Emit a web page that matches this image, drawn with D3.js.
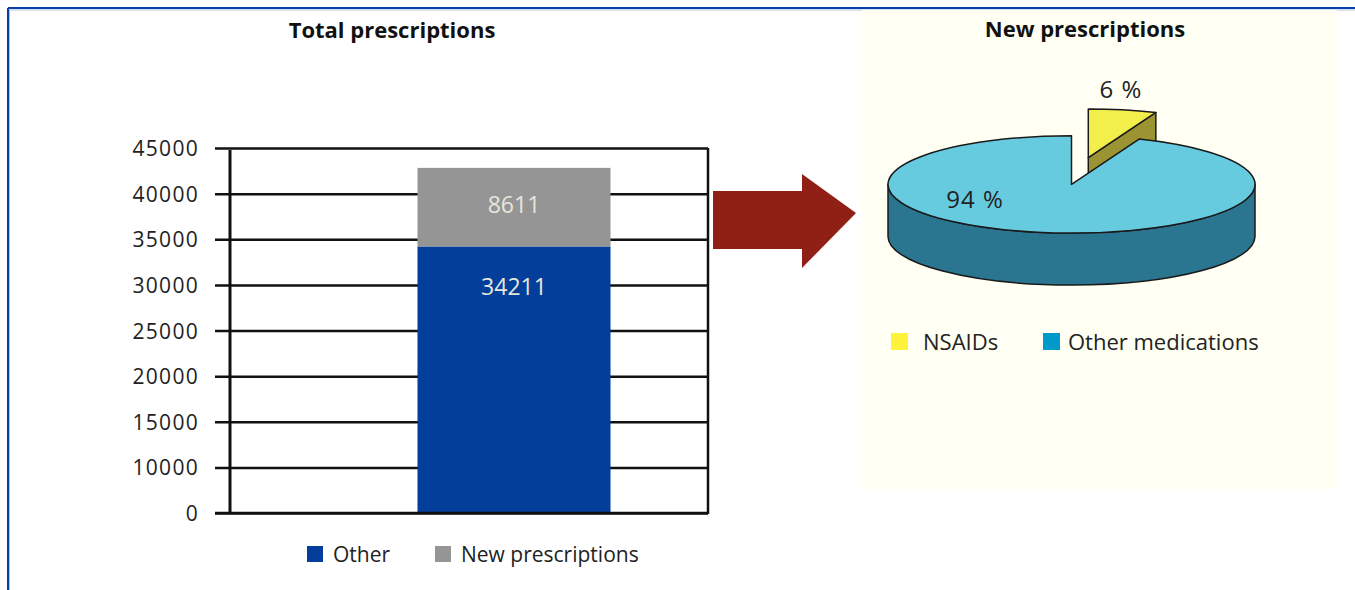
<!DOCTYPE html>
<html>
<head>
<meta charset="utf-8">
<script src="https://cdn.jsdelivr.net/npm/d3@7"></script>
<style>
  html, body { margin: 0; padding: 0; background: #ffffff; }
  svg { display: block; font-family: "Open Sans", "DejaVu Sans", sans-serif; }
</style>
</head>
<body>
<svg id="chart" width="1355" height="590"></svg>
<script>
// ---------- DATA ----------
const barCategories = ["Total prescriptions"];
const barSeries = ["Other", "New prescriptions"];
const otherValues = [34211];
const newValues = [8611];
const barColors = ["#023e9a", "#959595"];
// tick labels exactly as printed on the reference axis (no 5000 label; lowest gridline printed "0")
const tickValues = [5000, 10000, 15000, 20000, 25000, 30000, 35000, 40000, 45000];
const tickLabels = ["0", "10000", "15000", "20000", "25000", "30000", "35000", "40000", "45000"];

const pieCategories = ["NSAIDs", "Other medications"];
const pieValues = [6, 94];
const pieLabels = ["6 %", "94 %"];
const pieTopColors = ["#f2ee4a", "#67cbe0"];
const pieSideColors = ["#9c9432", "#2a7590"];
const pieLegendColors = ["#fff23a", "#0099cc"];

// ---------- SETUP ----------
const svg = d3.select("#chart");

// frame
svg.append("line").attr("x1", 8).attr("y1", 8).attr("x2", 1355).attr("y2", 8)
  .attr("stroke", "#0a3fa8").attr("stroke-width", 2);
svg.append("line").attr("x1", 8).attr("y1", 8).attr("x2", 8).attr("y2", 590)
  .attr("stroke", "#0a3fa8").attr("stroke-width", 2);
svg.append("line").attr("x1", 9.5).attr("y1", 10).attr("x2", 1355).attr("y2", 10)
  .attr("stroke", "#a9c0ec").attr("stroke-width", 1);
svg.append("line").attr("x1", 9.5).attr("y1", 10).attr("x2", 9.5).attr("y2", 590)
  .attr("stroke", "#a9c0ec").attr("stroke-width", 1);

// ---------- BAR CHART ----------
const plotLeft = 230, plotRight = 708, plotTop = 148, plotBottom = 513;

const y = d3.scaleLinear().domain([5000, 45000]).range([plotBottom, plotTop]);
const x = d3.scaleBand().domain(barCategories).range([plotLeft + 90, plotRight]).paddingInner(0.3356).paddingOuter(0.3356);

svg.append("text").attr("x", 392).attr("y", 38).attr("text-anchor", "middle")
  .attr("font-weight", "bold").attr("font-size", 22).attr("fill", "#111")
  .text("Total prescriptions");

const gAxis = svg.append("g").attr("transform", `translate(${plotLeft},0)`);
const yAxis = d3.axisLeft(y).tickValues(tickValues)
  .tickFormat((d, i) => tickLabels[i]).tickSize(-(plotRight - plotLeft)).tickSizeOuter(0).tickPadding(31);
gAxis.call(yAxis);
gAxis.select(".domain").remove();
gAxis.selectAll(".tick line").attr("x1", -15).attr("stroke", "#111").attr("stroke-width", 2.5);
gAxis.selectAll(".tick text").attr("font-size", 21).attr("fill", "#222")
  .attr("font-family", "'Open Sans', sans-serif").attr("letter-spacing", "1.3px")
  .attr("dy", "0.36em");

// vertical axis lines
svg.append("line").attr("x1", plotLeft).attr("x2", plotLeft).attr("y1", plotTop + 2).attr("y2", plotBottom + 1)
  .attr("stroke", "#111").attr("stroke-width", 3);
svg.append("line").attr("x1", plotRight).attr("x2", plotRight).attr("y1", plotTop).attr("y2", plotBottom + 1)
  .attr("stroke", "#111").attr("stroke-width", 2.5);

// clip to plot area
svg.append("clipPath").attr("id", "plotClip").append("rect")
  .attr("x", plotLeft).attr("y", plotTop - 40).attr("width", plotRight - plotLeft).attr("height", plotBottom - plotTop + 40);

const stackData = barCategories.map((c, i) => ({ cat: c, "Other": otherValues[i], "New prescriptions": newValues[i] }));
const stacked = d3.stack().keys(barSeries)(stackData);

const gBars = svg.append("g").attr("clip-path", "url(#plotClip)");
stacked.forEach((layer, li) => {
  gBars.selectAll(null).data(layer).enter().append("rect")
    .attr("x", d => x(d.data.cat))
    .attr("width", x.bandwidth())
    .attr("y", d => y(d[1]))
    .attr("height", d => Math.max(0, y(d[0]) - y(d[1])))
    .attr("fill", barColors[li]);
});
// value labels
stacked.forEach((layer, li) => {
  svg.selectAll(null).data(layer).enter().append("text")
    .attr("x", d => x(d.data.cat) + x.bandwidth() / 2)
    .attr("y", d => li === 0 ? y(d[1]) + 40 : (y(d[1]) + y(d[0])) / 2 - 2)
    .attr("dy", "0.36em")
    .attr("text-anchor", "middle").attr("font-size", 23).attr("fill", "#e6e6dc")
    .text(d => d.data[barSeries[li]]);
});
// baseline over bars
svg.append("line").attr("x1", plotLeft - 15).attr("x2", plotRight).attr("y1", y(5000)).attr("y2", y(5000))
  .attr("stroke", "#111").attr("stroke-width", 2.5);

// legend
const barLegend = svg.append("g");
const barLegendX = [307, 435];
barSeries.forEach((s, i) => {
  barLegend.append("rect").attr("x", barLegendX[i]).attr("y", 546).attr("width", 16).attr("height", 16).attr("fill", barColors[i]);
  barLegend.append("text").attr("x", barLegendX[i] + 26).attr("y", 554).attr("dy", "0.36em")
    .attr("font-size", 21).attr("fill", "#222").text(s);
});

// ---------- ARROW ----------
svg.append("path")
  .attr("d", "M713,191 L802,191 L802,174 L856,213 L802,268 L802,249 L713,249 Z")
  .attr("fill", "#901f15");

// ---------- PIE PANEL ----------
svg.append("rect").attr("x", 862).attr("y", 10).attr("width", 475).attr("height", 479).attr("fill", "#fffff3");
svg.append("text").attr("x", 1085).attr("y", 37).attr("text-anchor", "middle")
  .attr("font-weight", "bold").attr("font-size", 22).attr("fill", "#111").text("New prescriptions");

const cx = 1071.5, cy = 184.4, rx = 183.5, ry = 48.7, depth = 52;
const explode = [16.8, -26.7];
const P = (a, ox = 0, oy = 0) => [cx + ox + rx * Math.sin(a), cy + oy - ry * Math.cos(a)];

const arcs = d3.pie().sort(null).value(d => d)(pieValues);
const gPie = svg.append("g").attr("stroke", "#1a1a1a").attr("stroke-width", 1.5).attr("stroke-linejoin", "round");

function topPath(a0, a1, ox, oy) {
  const p0 = P(a0, ox, oy), p1 = P(a1, ox, oy);
  const large = (a1 - a0) > Math.PI ? 1 : 0;
  return `M${cx + ox},${cy + oy} L${p0[0]},${p0[1]} A${rx},${ry} 0 ${large} 1 ${p1[0]},${p1[1]} Z`;
}
function sidePath(a0, a1, ox, oy) {
  const s = Math.max(a0, Math.PI / 2), e = Math.min(a1, 3 * Math.PI / 2);
  if (e <= s) return null;
  const p0 = P(s, ox, oy), p1 = P(e, ox, oy);
  return `M${p0[0]},${p0[1]} A${rx},${ry} 0 0 1 ${p1[0]},${p1[1]} L${p1[0]},${p1[1] + depth} A${rx},${ry} 0 0 0 ${p0[0]},${p0[1] + depth} Z`;
}
function radialFace(a, ox, oy) {
  const p = P(a, ox, oy);
  return `M${cx + ox},${cy + oy} L${p[0]},${p[1]} L${p[0]},${p[1] + depth} L${cx + ox},${cy + oy + depth} Z`;
}

// exploded NSAIDs slice (drawn first, behind)
const a0 = arcs[0];
gPie.append("path").attr("d", radialFace(a0.endAngle, explode[0], explode[1])).attr("fill", pieSideColors[0]);
gPie.append("path").attr("d", topPath(a0.startAngle, a0.endAngle, explode[0], explode[1])).attr("fill", pieTopColors[0]);

// main slice
const a1 = arcs[1];
const sp = sidePath(a1.startAngle, a1.endAngle, 0, 0);
if (sp) gPie.append("path").attr("d", sp).attr("fill", pieSideColors[1]);
gPie.append("path").attr("d", topPath(a1.startAngle, a1.endAngle, 0, 0)).attr("fill", pieTopColors[1]);

// pie labels
svg.append("text").attr("x", 1121).attr("y", 89).attr("dy", "0.36em").attr("text-anchor", "middle")
  .attr("font-size", 24).attr("letter-spacing", "1px").attr("fill", "#222").text(pieLabels[0]);
svg.append("text").attr("x", 975).attr("y", 199).attr("dy", "0.36em").attr("text-anchor", "middle")
  .attr("font-size", 24).attr("letter-spacing", "1px").attr("fill", "#222").text(pieLabels[1]);

// pie legend
const pieLegendX = [891, 1043];
pieCategories.forEach((c, i) => {
  svg.append("rect").attr("x", pieLegendX[i]).attr("y", 333).attr("width", 17).attr("height", 17).attr("fill", pieLegendColors[i]);
  svg.append("text").attr("x", pieLegendX[i] + (i === 0 ? 32 : 25)).attr("y", 342).attr("dy", "0.36em")
    .attr("font-size", 22).attr("fill", "#222").text(c);
});
</script>
</body>
</html>
